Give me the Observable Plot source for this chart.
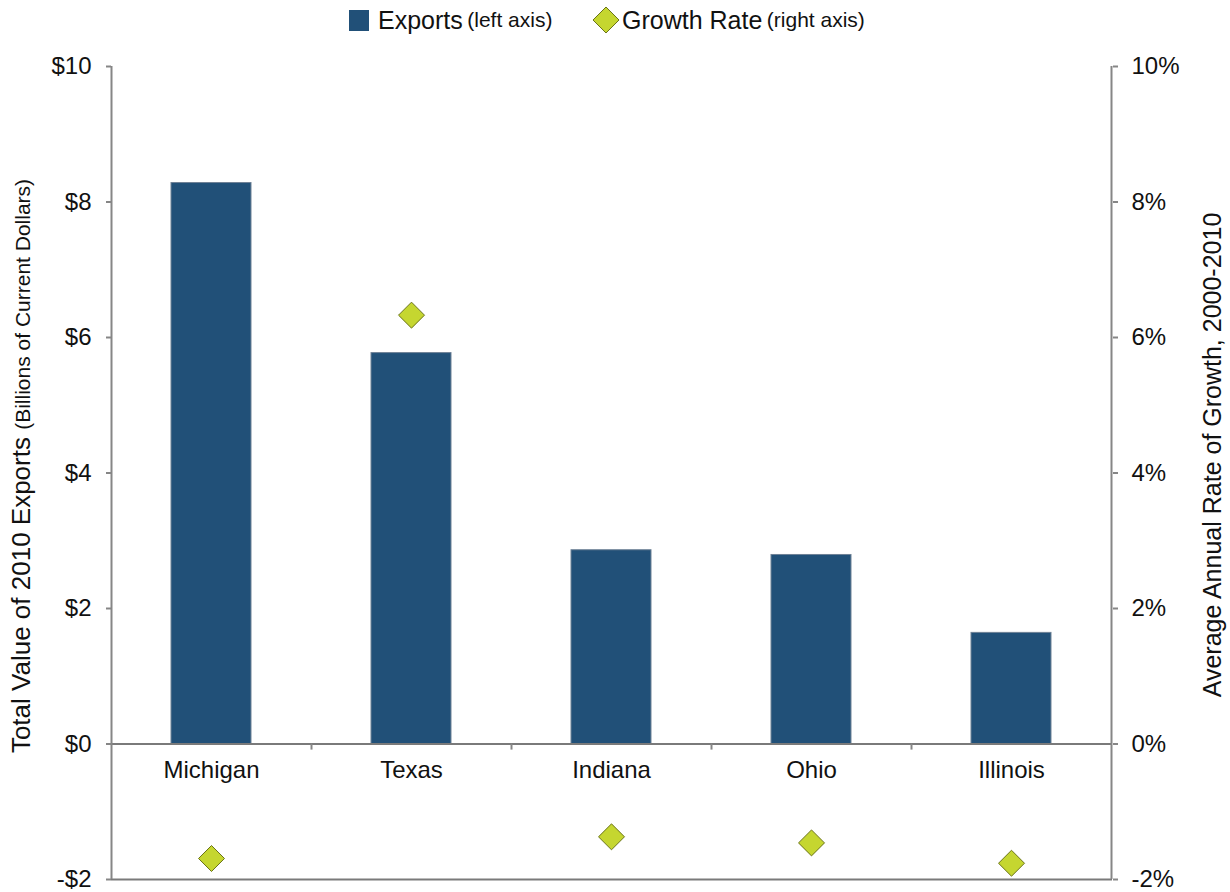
<!DOCTYPE html>
<html>
<head>
<meta charset="utf-8">
<script src="https://cdn.jsdelivr.net/npm/d3@7"></script>
<script src="https://cdn.jsdelivr.net/npm/@observablehq/plot@0.6"></script>
<style>
  html, body { margin: 0; padding: 0; background: #fff; }
  body { width: 1230px; height: 892px; position: relative; overflow: hidden; font-family: "Liberation Sans", Arial, sans-serif; color: #111; }
  #legend { position: absolute; left: 0; top: 0; width: 1230px; height: 40px; }
  .lg { position: absolute; top: 0; height: 40px; display: flex; align-items: center; white-space: nowrap; }
  .big { font-size: 25px; }
  .small { font-size: 21px; }
  #chart { position: absolute; left: 0; top: 40px; }
</style>
</head>
<body>
<div id="legend">
  <div class="lg" style="left:349px">
    <span style="display:inline-block;width:20px;height:21px;background:#215078;margin-right:9px"></span>
    <span class="big">Exports</span>&nbsp;<span class="small">(left axis)</span>
  </div>
  <div class="lg" style="left:591px">
    <svg width="30" height="30" style="margin-right:1px"><path d="M15,2 L28,15 L15,28 L2,15 Z" fill="#c5d630" stroke="#6a7318" stroke-width="1"/></svg>
    <span class="big">Growth Rate</span>&nbsp;<span class="small">(right axis)</span>
  </div>
</div>
<div id="chart"></div>
<script>
// Data
const states = ["Michigan", "Texas", "Indiana", "Ohio", "Illinois"];
const exportsBillions = [8.28, 5.77, 2.86, 2.79, 1.64];   // left axis, $ billions
const growthRate = [-1.69, 6.33, -1.37, -1.46, -1.76];     // right axis, percent
const yTicks = [-2, 0, 2, 4, 6, 8, 10];

const data = states.map((s, i) => ({state: s, exports: exportsBillions[i], growth: growthRate[i]}));

const dollar = d => (d < 0 ? "-$" + (-d) : "$" + d);
const pct = d => d + "%";

const axisGray = "#868686";

const chart = Plot.plot({
  width: 1230,
  height: 852,
  marginLeft: 111,
  marginRight: 118,
  marginTop: 26,
  marginBottom: 13,
  style: {fontFamily: "'Liberation Sans', Arial, sans-serif", fontSize: "24px", color: "#111", background: "#fff", overflow: "visible"},
  x: {domain: states, paddingInner: 0.6, paddingOuter: 0.3, axis: null},
  y: {domain: [-2, 10], axis: null},
  marks: [
    Plot.barY(data, {x: "state", y: "exports", fill: "#215078", stroke: "#6f8296", strokeWidth: 1}),
    Plot.ruleY([0], {stroke: "#7a7a7a", strokeWidth: 2}),
    Plot.ruleY([-2], {stroke: "#7a7a7a", strokeWidth: 2}),
    Plot.ruleX([states[0]], {dx: -100, stroke: axisGray, strokeWidth: 2}),
    Plot.ruleX([states[states.length - 1]], {dx: 100, stroke: axisGray, strokeWidth: 2}),
    Plot.ruleX(states.slice(0, -1), {dx: 100, y1: 0, y2: -0.09, stroke: axisGray, strokeWidth: 2}),
    Plot.axisY({anchor: "left", ticks: yTicks, tickFormat: dollar, tickSize: 5, tickPadding: 15, fontSize: 24, label: null, stroke: axisGray, strokeWidth: 2, fill: "#111"}),
    Plot.axisY({anchor: "right", ticks: yTicks, tickFormat: pct, tickSize: 5, tickPadding: 14, fontSize: 24, label: null, stroke: axisGray, strokeWidth: 2, fill: "#111"}),
    Plot.text(data, {x: "state", y: 0, text: "state", dy: 26, fontSize: 24, fill: "#111"}),
    Plot.dot(data, {x: "state", y: "growth", symbol: "diamond2", r: 11.7, fill: "#c5d630", stroke: "#6a7318", strokeWidth: 1})
  ]
});

document.getElementById("chart").appendChild(chart);

// Axis titles (mixed font sizes)
const svg = d3.select(chart);
const lt = svg.append("text")
  .attr("transform", "translate(30,426) rotate(-90)")
  .attr("text-anchor", "middle")
  .attr("fill", "#111")
  .style("font-family", "'Liberation Sans', Arial, sans-serif");
lt.append("tspan").attr("font-size", 26).text("Total Value of 2010 Exports ");
lt.append("tspan").attr("font-size", 21).text("(Billions of Current Dollars)");

svg.append("text")
  .attr("transform", "translate(1221,415) rotate(-90)")
  .attr("text-anchor", "middle")
  .attr("fill", "#111")
  .attr("font-size", 25)
  .style("font-family", "'Liberation Sans', Arial, sans-serif")
  .text("Average Annual Rate of Growth, 2000-2010");
</script>
</body>
</html>
